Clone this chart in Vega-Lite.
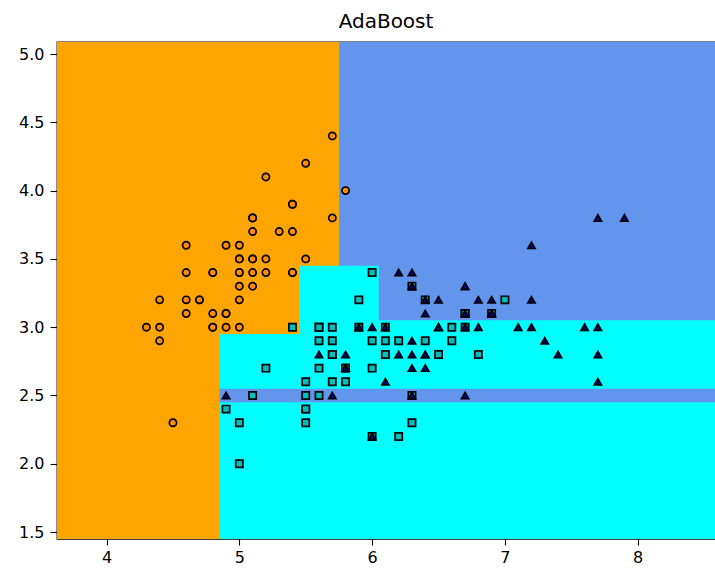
{
  "$schema": "https://vega.github.io/schema/vega-lite/v6.json",
  "width": 658,
  "height": 497,
  "autosize": {"type": "none"},
  "padding": {"left": 57, "top": 42, "right": 0, "bottom": 29},
  "background": "white",
  "title": {"text": "AdaBoost", "fontSize": 20, "font": "DejaVu Sans", "fontWeight": "normal", "color": "black", "baseline": "alphabetic", "offset": -6, "anchor": "middle"},
  "config": {
    "view": {"stroke": "black", "strokeWidth": 1.3},
    "axis": {"grid": false, "domain": false, "ticks": true, "tickColor": "black", "tickWidth": 1.1, "tickSize": 6, "labelFont": "DejaVu Sans", "labelFontSize": 16, "labelColor": "black", "title": null}
  },
  "datasets": {
    "regions": [
      {"x0": 3.3, "x1": 5.75, "y0": 1.0, "y1": 5.6, "region": "R0"},
      {"x0": 5.75, "x1": 8.9, "y0": 1.0, "y1": 5.6, "region": "R2"},
      {"x0": 4.85, "x1": 8.9, "y0": 1.0, "y1": 2.95, "region": "R1"},
      {"x0": 6.05, "x1": 8.9, "y0": 2.9, "y1": 3.05, "region": "R1"},
      {"x0": 5.45, "x1": 6.05, "y0": 2.9, "y1": 3.45, "region": "R1"},
      {"x0": 4.85, "x1": 8.9, "y0": 2.45, "y1": 2.55, "region": "R2"}
    ],
    "iris": [
      {"sl": 5.1, "sw": 3.5, "species": "setosa"},
      {"sl": 4.9, "sw": 3.0, "species": "setosa"},
      {"sl": 4.7, "sw": 3.2, "species": "setosa"},
      {"sl": 4.6, "sw": 3.1, "species": "setosa"},
      {"sl": 5.0, "sw": 3.6, "species": "setosa"},
      {"sl": 5.4, "sw": 3.9, "species": "setosa"},
      {"sl": 4.6, "sw": 3.4, "species": "setosa"},
      {"sl": 5.0, "sw": 3.4, "species": "setosa"},
      {"sl": 4.4, "sw": 2.9, "species": "setosa"},
      {"sl": 4.9, "sw": 3.1, "species": "setosa"},
      {"sl": 5.4, "sw": 3.7, "species": "setosa"},
      {"sl": 4.8, "sw": 3.4, "species": "setosa"},
      {"sl": 4.8, "sw": 3.0, "species": "setosa"},
      {"sl": 4.3, "sw": 3.0, "species": "setosa"},
      {"sl": 5.8, "sw": 4.0, "species": "setosa"},
      {"sl": 5.7, "sw": 4.4, "species": "setosa"},
      {"sl": 5.4, "sw": 3.9, "species": "setosa"},
      {"sl": 5.1, "sw": 3.5, "species": "setosa"},
      {"sl": 5.7, "sw": 3.8, "species": "setosa"},
      {"sl": 5.1, "sw": 3.8, "species": "setosa"},
      {"sl": 5.4, "sw": 3.4, "species": "setosa"},
      {"sl": 5.1, "sw": 3.7, "species": "setosa"},
      {"sl": 4.6, "sw": 3.6, "species": "setosa"},
      {"sl": 5.1, "sw": 3.3, "species": "setosa"},
      {"sl": 4.8, "sw": 3.4, "species": "setosa"},
      {"sl": 5.0, "sw": 3.0, "species": "setosa"},
      {"sl": 5.0, "sw": 3.4, "species": "setosa"},
      {"sl": 5.2, "sw": 3.5, "species": "setosa"},
      {"sl": 5.2, "sw": 3.4, "species": "setosa"},
      {"sl": 4.7, "sw": 3.2, "species": "setosa"},
      {"sl": 4.8, "sw": 3.1, "species": "setosa"},
      {"sl": 5.4, "sw": 3.4, "species": "setosa"},
      {"sl": 5.2, "sw": 4.1, "species": "setosa"},
      {"sl": 5.5, "sw": 4.2, "species": "setosa"},
      {"sl": 4.9, "sw": 3.1, "species": "setosa"},
      {"sl": 5.0, "sw": 3.2, "species": "setosa"},
      {"sl": 5.5, "sw": 3.5, "species": "setosa"},
      {"sl": 4.9, "sw": 3.6, "species": "setosa"},
      {"sl": 4.4, "sw": 3.0, "species": "setosa"},
      {"sl": 5.1, "sw": 3.4, "species": "setosa"},
      {"sl": 5.0, "sw": 3.5, "species": "setosa"},
      {"sl": 4.5, "sw": 2.3, "species": "setosa"},
      {"sl": 4.4, "sw": 3.2, "species": "setosa"},
      {"sl": 5.0, "sw": 3.5, "species": "setosa"},
      {"sl": 5.1, "sw": 3.8, "species": "setosa"},
      {"sl": 4.8, "sw": 3.0, "species": "setosa"},
      {"sl": 5.1, "sw": 3.8, "species": "setosa"},
      {"sl": 4.6, "sw": 3.2, "species": "setosa"},
      {"sl": 5.3, "sw": 3.7, "species": "setosa"},
      {"sl": 5.0, "sw": 3.3, "species": "setosa"},
      {"sl": 7.0, "sw": 3.2, "species": "versicolor"},
      {"sl": 6.4, "sw": 3.2, "species": "versicolor"},
      {"sl": 6.9, "sw": 3.1, "species": "versicolor"},
      {"sl": 5.5, "sw": 2.3, "species": "versicolor"},
      {"sl": 6.5, "sw": 2.8, "species": "versicolor"},
      {"sl": 5.7, "sw": 2.8, "species": "versicolor"},
      {"sl": 6.3, "sw": 3.3, "species": "versicolor"},
      {"sl": 4.9, "sw": 2.4, "species": "versicolor"},
      {"sl": 6.6, "sw": 2.9, "species": "versicolor"},
      {"sl": 5.2, "sw": 2.7, "species": "versicolor"},
      {"sl": 5.0, "sw": 2.0, "species": "versicolor"},
      {"sl": 5.9, "sw": 3.0, "species": "versicolor"},
      {"sl": 6.0, "sw": 2.2, "species": "versicolor"},
      {"sl": 6.1, "sw": 2.9, "species": "versicolor"},
      {"sl": 5.6, "sw": 2.9, "species": "versicolor"},
      {"sl": 6.7, "sw": 3.1, "species": "versicolor"},
      {"sl": 5.6, "sw": 3.0, "species": "versicolor"},
      {"sl": 5.8, "sw": 2.7, "species": "versicolor"},
      {"sl": 6.2, "sw": 2.2, "species": "versicolor"},
      {"sl": 5.6, "sw": 2.5, "species": "versicolor"},
      {"sl": 5.9, "sw": 3.2, "species": "versicolor"},
      {"sl": 6.1, "sw": 2.8, "species": "versicolor"},
      {"sl": 6.3, "sw": 2.5, "species": "versicolor"},
      {"sl": 6.1, "sw": 2.8, "species": "versicolor"},
      {"sl": 6.4, "sw": 2.9, "species": "versicolor"},
      {"sl": 6.6, "sw": 3.0, "species": "versicolor"},
      {"sl": 6.8, "sw": 2.8, "species": "versicolor"},
      {"sl": 6.7, "sw": 3.0, "species": "versicolor"},
      {"sl": 6.0, "sw": 2.9, "species": "versicolor"},
      {"sl": 5.7, "sw": 2.6, "species": "versicolor"},
      {"sl": 5.5, "sw": 2.4, "species": "versicolor"},
      {"sl": 5.5, "sw": 2.4, "species": "versicolor"},
      {"sl": 5.8, "sw": 2.7, "species": "versicolor"},
      {"sl": 6.0, "sw": 2.7, "species": "versicolor"},
      {"sl": 5.4, "sw": 3.0, "species": "versicolor"},
      {"sl": 6.0, "sw": 3.4, "species": "versicolor"},
      {"sl": 6.7, "sw": 3.1, "species": "versicolor"},
      {"sl": 6.3, "sw": 2.3, "species": "versicolor"},
      {"sl": 5.6, "sw": 3.0, "species": "versicolor"},
      {"sl": 5.5, "sw": 2.5, "species": "versicolor"},
      {"sl": 5.5, "sw": 2.6, "species": "versicolor"},
      {"sl": 6.1, "sw": 3.0, "species": "versicolor"},
      {"sl": 5.8, "sw": 2.6, "species": "versicolor"},
      {"sl": 5.0, "sw": 2.3, "species": "versicolor"},
      {"sl": 5.6, "sw": 2.7, "species": "versicolor"},
      {"sl": 5.7, "sw": 3.0, "species": "versicolor"},
      {"sl": 5.7, "sw": 2.9, "species": "versicolor"},
      {"sl": 6.2, "sw": 2.9, "species": "versicolor"},
      {"sl": 5.1, "sw": 2.5, "species": "versicolor"},
      {"sl": 5.7, "sw": 2.8, "species": "versicolor"},
      {"sl": 6.3, "sw": 3.3, "species": "virginica"},
      {"sl": 5.8, "sw": 2.7, "species": "virginica"},
      {"sl": 7.1, "sw": 3.0, "species": "virginica"},
      {"sl": 6.3, "sw": 2.9, "species": "virginica"},
      {"sl": 6.5, "sw": 3.0, "species": "virginica"},
      {"sl": 7.6, "sw": 3.0, "species": "virginica"},
      {"sl": 4.9, "sw": 2.5, "species": "virginica"},
      {"sl": 7.3, "sw": 2.9, "species": "virginica"},
      {"sl": 6.7, "sw": 2.5, "species": "virginica"},
      {"sl": 7.2, "sw": 3.6, "species": "virginica"},
      {"sl": 6.5, "sw": 3.2, "species": "virginica"},
      {"sl": 6.4, "sw": 2.7, "species": "virginica"},
      {"sl": 6.8, "sw": 3.0, "species": "virginica"},
      {"sl": 5.7, "sw": 2.5, "species": "virginica"},
      {"sl": 5.8, "sw": 2.8, "species": "virginica"},
      {"sl": 6.4, "sw": 3.2, "species": "virginica"},
      {"sl": 6.5, "sw": 3.0, "species": "virginica"},
      {"sl": 7.7, "sw": 3.8, "species": "virginica"},
      {"sl": 7.7, "sw": 2.6, "species": "virginica"},
      {"sl": 6.0, "sw": 2.2, "species": "virginica"},
      {"sl": 6.9, "sw": 3.2, "species": "virginica"},
      {"sl": 5.6, "sw": 2.8, "species": "virginica"},
      {"sl": 7.7, "sw": 2.8, "species": "virginica"},
      {"sl": 6.3, "sw": 2.7, "species": "virginica"},
      {"sl": 6.7, "sw": 3.3, "species": "virginica"},
      {"sl": 7.2, "sw": 3.2, "species": "virginica"},
      {"sl": 6.2, "sw": 2.8, "species": "virginica"},
      {"sl": 6.1, "sw": 3.0, "species": "virginica"},
      {"sl": 6.4, "sw": 2.8, "species": "virginica"},
      {"sl": 7.2, "sw": 3.0, "species": "virginica"},
      {"sl": 7.4, "sw": 2.8, "species": "virginica"},
      {"sl": 7.9, "sw": 3.8, "species": "virginica"},
      {"sl": 6.4, "sw": 2.8, "species": "virginica"},
      {"sl": 6.3, "sw": 2.8, "species": "virginica"},
      {"sl": 6.1, "sw": 2.6, "species": "virginica"},
      {"sl": 7.7, "sw": 3.0, "species": "virginica"},
      {"sl": 6.3, "sw": 3.4, "species": "virginica"},
      {"sl": 6.4, "sw": 3.1, "species": "virginica"},
      {"sl": 6.0, "sw": 3.0, "species": "virginica"},
      {"sl": 6.9, "sw": 3.1, "species": "virginica"},
      {"sl": 6.7, "sw": 3.1, "species": "virginica"},
      {"sl": 6.9, "sw": 3.1, "species": "virginica"},
      {"sl": 5.8, "sw": 2.7, "species": "virginica"},
      {"sl": 6.8, "sw": 3.2, "species": "virginica"},
      {"sl": 6.7, "sw": 3.3, "species": "virginica"},
      {"sl": 6.7, "sw": 3.0, "species": "virginica"},
      {"sl": 6.3, "sw": 2.5, "species": "virginica"},
      {"sl": 6.5, "sw": 3.0, "species": "virginica"},
      {"sl": 6.2, "sw": 3.4, "species": "virginica"},
      {"sl": 5.9, "sw": 3.0, "species": "virginica"}
    ]
  },
  "layer": [
    {
      "data": {"name": "regions"},
      "mark": {"type": "rect", "clip": true, "strokeWidth": 0},
      "encoding": {
        "x": {"field": "x0", "type": "quantitative", "scale": {"domain": [3.627, 8.582], "nice": false, "zero": false}, "axis": {"values": [4, 5, 6, 7, 8], "format": "d", "labelPadding": 4}},
        "x2": {"field": "x1"},
        "y": {"field": "y0", "type": "quantitative", "scale": {"domain": [1.449, 5.088], "nice": false, "zero": false}, "axis": {"values": [1.5, 2.0, 2.5, 3.0, 3.5, 4.0, 4.5, 5.0], "format": ".1f", "tickSize": 7, "labelPadding": 6}},
        "y2": {"field": "y1"},
        "color": {"field": "region", "type": "nominal", "scale": {"domain": ["R0", "R1", "R2"], "range": ["#ffa500", "#00ffff", "#6495ed"]}, "legend": null}
      }
    },
    {
      "data": {"name": "iris"},
      "mark": {"type": "point", "filled": true, "stroke": "black", "strokeWidth": 1.7, "opacity": 1, "clip": true},
      "encoding": {
        "x": {"field": "sl", "type": "quantitative"},
        "y": {"field": "sw", "type": "quantitative"},
        "color": {"field": "species", "type": "nominal", "scale": {"domain": ["setosa", "versicolor", "virginica"], "range": ["#ff8c00", "#00bfbf", "#00008b"]}, "legend": null},
        "shape": {"field": "species", "type": "nominal", "scale": {"domain": ["setosa", "versicolor", "virginica"], "range": ["circle", "square", "triangle-up"]}, "legend": null},
        "size": {"field": "species", "type": "nominal", "scale": {"domain": ["setosa", "versicolor", "virginica"], "range": [52, 52, 66]}, "legend": null}
      }
    }
  ],
  "resolve": {"scale": {"color": "independent"}}
}
